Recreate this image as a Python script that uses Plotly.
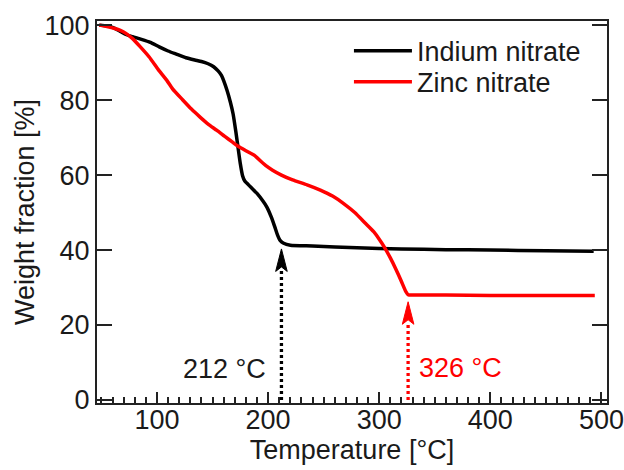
import plotly.graph_objects as go

# ---- data ----
indium_T = [48, 55, 60, 66, 72, 78, 86, 94, 102, 110, 118, 126, 134, 140, 146, 151, 155, 158,
            160, 163, 166, 168.5, 171, 173, 175, 177, 179, 181, 185, 190, 195, 199, 203, 206,
            208.5, 211, 214, 220, 240, 280, 320, 360, 400, 450, 493]
indium_W = [100, 99.8, 99.4, 98.5, 97.5, 96.9, 96.2, 95.4, 94.2, 93.1, 92.2, 91.3, 90.7, 90.3, 89.7, 88.9, 87.8, 86.6,
            85.2, 82.6, 79.5, 76.3, 71.5, 67.2, 63.0, 59.8, 58.4, 57.8, 56.6, 55.1, 53.2, 51.4, 48.7, 46.2,
            44.0, 42.5, 41.8, 41.3, 41.1, 40.6, 40.3, 40.1, 40.0, 39.8, 39.7]

zinc_T = [48, 55, 62, 67, 72, 78, 85, 93, 101, 109, 114, 123, 131, 139, 146, 154, 161, 168, 172, 177,
          183, 188, 193, 198, 204, 212, 222, 235, 247, 258, 268, 278, 288, 295, 300, 305, 310, 315,
          320, 324, 326, 330, 360, 400, 450, 494]
zinc_W = [100, 99.6, 99.1, 98.6, 97.8, 96.4, 94.2, 91.5, 88.2, 85.2, 83.0, 80.1, 77.6, 75.4, 73.6, 71.9, 70.3, 68.8, 67.9, 67.0,
          66.0, 65.2, 63.8, 62.5, 61.3, 60.0, 58.7, 57.4, 56.0, 54.4, 52.4, 50.0, 47.0, 44.9, 42.9, 40.6, 37.9, 34.9,
          31.6, 28.9, 28.1, 28.0, 28.0, 27.9, 27.9, 27.9]

series_names = ["Indium nitrate", "Zinc nitrate"]
series_colors = ["#000000", "#ff0000"]

onset_T = [212, 326]
onset_tip_W = [40.3, 26.2]
onset_labels = ["212 °C", "326 °C"]

x_major_ticks = [100, 200, 300, 400, 500]
y_ticks = [0, 20, 40, 60, 80, 100]

FONT = "Liberation Sans, Arial, sans-serif"
FS = 27
TXT = "#1a1a1a"

fig = go.Figure()
for T, W, name, col, lg in [(indium_T, indium_W, series_names[0], series_colors[0], "legend"),
                            (zinc_T, zinc_W, series_names[1], series_colors[1], "legend2")]:
    fig.add_trace(go.Scatter(x=T, y=W, mode="lines", name=name, legend=lg,
                             line=dict(color=col, width=3.5, shape="spline", smoothing=0.5)))

head_len = 6.0   # in weight units
head_half = 5.2  # in temperature units
shapes = []
for T, tip, col in zip(onset_T, onset_tip_W, series_colors):
    base = tip - head_len
    fig.add_trace(go.Scatter(x=[T, T], y=[0, base + 0.5], mode="lines", showlegend=False,
                             line=dict(color=col, width=3.3, dash="3px,3px"), hoverinfo="skip"))
    shapes.append(dict(type="path", xref="x", yref="y",
                       path=f"M {T} {tip} L {T - head_half} {base} L {T} {base + 1.2} L {T + head_half} {base} Z",
                       fillcolor=col, line=dict(color=col, width=1)))

annotations = [
    dict(x=onset_T[0] - 12, y=8.3, xref="x", yref="y", text=onset_labels[0], showarrow=False,
         xanchor="right", yanchor="middle", font=dict(family=FONT, size=FS, color=TXT)),
    dict(x=onset_T[1] + 8, y=8.5, xref="x", yref="y", text=onset_labels[1], showarrow=False,
         xanchor="left", yanchor="middle", font=dict(family=FONT, size=FS, color=series_colors[1])),
]

legend_common = dict(x=0.494, xanchor="left", yanchor="middle", bgcolor="rgba(0,0,0,0)",
                     font=dict(family=FONT, size=FS, color=TXT), itemwidth=58)

fig.update_layout(
    width=624, height=470,
    margin=dict(l=97, r=17, t=21, b=67),
    paper_bgcolor="white", plot_bgcolor="white",
    font=dict(family=FONT, size=FS, color=TXT),
    shapes=shapes, annotations=annotations,
    legend=dict(y=0.921, **legend_common),
    legend2=dict(y=0.840, **legend_common),
    xaxis=dict(range=[46, 505], showgrid=False, zeroline=False, showline=True, linecolor="#222",
               linewidth=2, mirror=True, ticks="inside", ticklen=11, tickwidth=2, tickcolor="#222",
               tickvals=x_major_ticks, ticktext=[str(v) for v in x_major_ticks], automargin=False,
               ticklabelstandoff=-8,
               minor=dict(ticks="inside", ticklen=6, tickwidth=1.5, tickcolor="#222", dtick=10, tick0=0),
               title=dict(text="Temperature [°C]", standoff=4, font=dict(size=FS)),
               tickfont=dict(size=FS)),
    yaxis=dict(range=[-0.8, 101.1], showgrid=False, zeroline=False, showline=True, linecolor="#222",
               linewidth=2, mirror="allticks", ticks="inside", ticklen=15, tickwidth=2, tickcolor="#222",
               tickvals=y_ticks, automargin=False,
               title=dict(text="Weight fraction [%]", standoff=2, font=dict(size=FS)),
               tickfont=dict(size=FS)),
)

page_fix = ("document.documentElement.style.overflow='hidden';"
            "document.body.style.margin='0px';document.body.style.overflow='hidden';")
fig.write_html("out.html", post_script=page_fix, config={"displayModeBar": False})
